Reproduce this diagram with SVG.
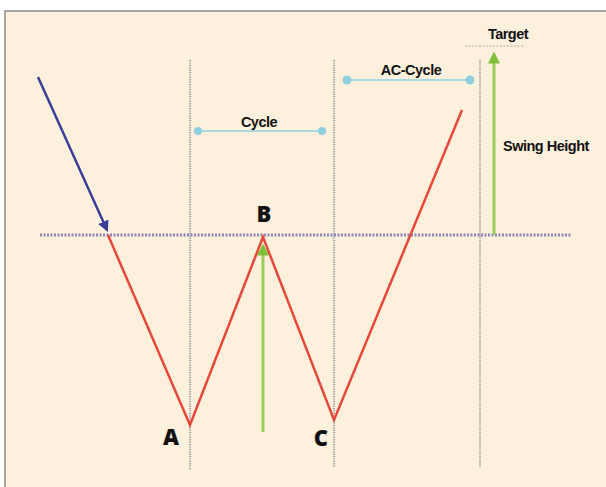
<svg xmlns="http://www.w3.org/2000/svg" width="606" height="487" viewBox="0 0 606 487">
<defs>
<style>
.grid{stroke:#a89fa2;stroke-width:2;stroke-dasharray:1.2 1.2;fill:none}
.base{stroke:#8a85b8;stroke-width:3;stroke-dasharray:2 1.5;fill:none}
.price{stroke:#e8483a;stroke-width:2.5;fill:none;stroke-linejoin:miter}
.span{stroke:#a8d8e0;stroke-width:2;fill:none}
.dot{fill:#8fd0e0}
.green{stroke:#9ccc5a;stroke-width:3;fill:none}
.lbl{font-family:"Liberation Sans",Arial,sans-serif;font-weight:bold;fill:#111;letter-spacing:-0.5px}
.pt{font-family:"Open Sans","Liberation Sans",sans-serif;font-weight:800;font-size:22px;fill:#111}
</style>
<marker id="gh" viewBox="0 0 10 10" refX="8" refY="5" markerWidth="4" markerHeight="4" orient="auto"><path d="M0,0 L10,5 L0,10 z" fill="#7fbf3a"/></marker>
<marker id="bh" viewBox="0 0 10 10" refX="8" refY="5" markerWidth="4.5" markerHeight="4.5" orient="auto"><path d="M0,0 L10,5 L0,10 z" fill="#3a3f9a"/></marker>
</defs>
<rect x="0" y="0" width="606" height="487" fill="#ffffff"/>
<rect x="5" y="11" width="601" height="476" fill="#fdf0dc"/>
<path d="M5,487 V11 H606" stroke="#8a8a8a" stroke-width="1.5" fill="none"/>
<g id="connectors">
<line class="grid" x1="190" y1="60" x2="190" y2="470"/>
<line class="grid" x1="334" y1="60" x2="334" y2="468"/>
<line class="grid" x1="480" y1="60" x2="480" y2="468"/>
<line class="base" x1="40" y1="235" x2="572" y2="235"/>
<line x1="465" y1="46" x2="525" y2="46" stroke="#b0a8a8" stroke-width="1.2" stroke-dasharray="2 1.5"/>
<line x1="38" y1="77" x2="107" y2="230" stroke="#3a3f9a" stroke-width="2.5" marker-end="url(#bh)"/>
<polyline class="price" points="108,235 190,425 263,237 334,420 462,110"/>
<line class="green" x1="263" y1="432" x2="263" y2="246" marker-end="url(#gh)"/>
<line class="green" x1="494" y1="235" x2="494" y2="54" marker-end="url(#gh)"/>
<line class="span" x1="198" y1="131" x2="322" y2="131"/>
<circle class="dot" cx="198" cy="131" r="4"/>
<circle class="dot" cx="322" cy="131" r="4"/>
<line class="span" x1="347" y1="80" x2="470" y2="80"/>
<circle class="dot" cx="347" cy="80" r="4.5"/>
<circle class="dot" cx="470" cy="80" r="4.5"/>
</g>
<g id="label-target"><text class="lbl" x="508" y="39" font-size="14.5" text-anchor="middle">Target</text></g>
<g id="label-accycle"><text class="lbl" x="411" y="75" font-size="14.5" text-anchor="middle">AC-Cycle</text></g>
<g id="label-cycle"><text class="lbl" x="259" y="127" font-size="14.5" text-anchor="middle">Cycle</text></g>
<g id="label-swing"><text class="lbl" x="503" y="151" font-size="14.5">Swing Height</text></g>
<g id="point-b"><text class="pt" x="264" y="222" text-anchor="middle">B</text></g>
<g id="point-a"><text class="pt" x="171" y="445" text-anchor="middle">A</text></g>
<g id="point-c"><text class="pt" x="321" y="446" text-anchor="middle">C</text></g>
</svg>
